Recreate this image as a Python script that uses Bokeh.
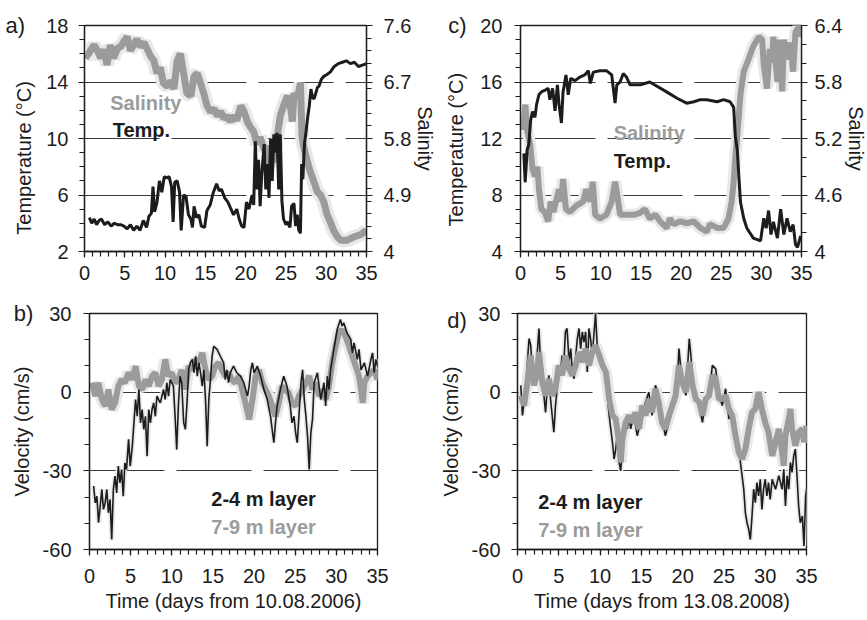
from bokeh.plotting import figure
from bokeh.models import Range1d, LinearAxis, FixedTicker, Label, NumeralTickFormatter
from bokeh.layouts import row, column
from bokeh.embed import file_html
from bokeh.resources import INLINE

# ---------------- data ----------------
# panel a (2006): temperature (degC) and salinity
a_temp_day = [0.6, 0.9, 1.2, 1.5, 1.8, 2.1, 2.5, 2.9, 3.3, 3.7,
              4.1, 4.5, 4.9, 5.3, 5.7, 6.1, 6.5, 6.9, 7.3, 7.7,
              8.0, 8.3, 8.5, 8.7, 9.0, 9.3, 9.6, 9.9, 10.2, 10.5,
              10.8, 11.0, 11.2, 11.5, 11.8, 12.0, 12.3, 12.6, 12.9, 13.2,
              13.4, 13.6, 13.9, 14.2, 14.5, 14.9, 15.2, 15.6, 16.0, 16.4,
              16.7, 17.0, 17.4, 17.8, 18.1, 18.5, 18.9, 19.2, 19.5, 19.8,
              20.1, 20.4, 20.8, 21.0, 21.2, 21.4, 21.6, 21.8, 22.0, 22.3,
              22.5, 22.7, 22.9, 23.1, 23.3, 23.5, 23.7, 23.9, 24.1, 24.3,
              24.5, 24.7, 25.0, 25.2, 25.5, 25.7, 26.0, 26.2, 26.4, 26.6,
              26.8, 26.95, 27.1, 27.3, 27.5, 27.7, 27.9, 28.1, 28.3, 28.5,
              28.7, 28.9, 29.1, 29.4, 29.7, 30.0, 30.5, 31.0, 31.5, 32.0,
              32.5, 33.0, 33.5, 34.0, 34.5, 35.0]
a_temp = [4.4, 4.0, 4.3, 3.9, 4.2, 4.3, 3.9, 4.1, 3.8, 4.0,
          3.9, 3.9, 3.8, 3.6, 3.9, 3.5, 3.8, 3.5, 4.2, 3.7,
          4.5, 4.7, 6.6, 4.8, 5.5, 7.0, 6.2, 7.3, 7.2, 7.3,
          6.6, 4.1, 6.9, 7.0, 6.2, 3.5, 6.0, 5.9, 4.6, 4.3,
          3.7, 5.2, 4.4, 4.6, 3.8, 3.7, 4.9, 5.3, 6.2, 6.8,
          6.3, 6.4, 5.8, 5.5, 5.1, 4.6, 5.0, 4.3, 3.8, 3.7,
          5.5, 5.0, 6.0, 5.3, 9.8, 6.4, 8.5, 5.2, 7.5, 9.6,
          6.4, 8.2, 5.8, 10.0, 7.0, 10.3, 9.0, 10.4, 6.4, 10.3,
          5.6, 4.3, 3.9, 4.1, 3.7, 5.2, 5.4, 3.8, 4.6, 3.5,
          3.3, 8.2, 7.1, 9.6, 10.5, 11.5, 12.3, 13.5, 12.9, 12.8,
          13.2, 13.6, 13.7, 14.2, 14.4, 14.5, 14.7, 15.1, 15.3, 15.4,
          15.5, 15.3, 15.4, 15.1, 15.2, 15.3]
a_sal_day = [0.1, 0.5, 1.2, 1.6, 2.0, 2.4, 2.8, 3.2, 3.6, 4.1,
             4.5, 4.9, 5.3, 5.7, 6.1, 6.5, 6.95, 7.4, 7.8, 8.2,
             8.6, 9.0, 9.4, 9.8, 10.3, 10.7, 11.1, 11.5, 11.9, 12.3,
             12.7, 13.2, 13.6, 14.0, 14.4, 14.8, 15.2, 15.6, 16.1, 16.5,
             16.9, 17.3, 17.7, 18.1, 18.5, 18.9, 19.4, 19.8, 20.2, 20.6,
             21.0, 21.4, 21.8, 22.3, 22.7, 23.1, 23.5, 23.9, 24.3, 24.7,
             25.2, 25.6, 25.8, 26.0, 26.4, 26.8, 27.0, 27.2, 27.6, 28.05,
             28.5, 28.9, 29.3, 29.7, 30.1, 30.5, 30.9, 31.4, 31.8, 32.6,
             33.4, 34.3, 35.0]
a_sal = [7.08, 7.15, 7.29, 7.20, 7.08, 7.22, 6.97, 7.29, 7.08, 7.24,
         7.26, 7.35, 7.42, 7.20, 7.29, 7.38, 7.26, 7.33, 7.22, 7.11,
         7.04, 6.84, 6.93, 6.68, 6.63, 6.72, 6.59, 7.04, 7.15, 6.84,
         6.52, 6.48, 6.79, 6.84, 6.68, 6.52, 6.32, 6.23, 6.27, 6.16,
         6.23, 6.12, 6.16, 6.07, 6.16, 6.09, 6.32, 6.23, 6.07, 5.98,
         5.91, 5.71, 5.82, 5.62, 5.67, 5.42, 5.46, 5.82, 6.16, 6.32,
         6.48, 6.27, 6.07, 6.52, 6.43, 6.68, 5.82, 5.67, 5.46, 5.26,
         5.10, 4.95, 4.90, 4.79, 4.59, 4.47, 4.34, 4.23, 4.18, 4.18,
         4.23, 4.27, 4.34]

# panel c (2008): temperature and salinity
c_temp_day = [0.42, 0.58, 0.83, 1.04, 1.25, 1.5, 1.8, 2.0, 2.3, 2.6,
              3.0, 3.45, 3.66, 4.0, 4.3, 4.6, 4.8, 5.1, 5.3, 5.66,
              5.95, 6.24, 6.8, 7.4, 8.0, 8.45, 8.7, 9.07, 9.9, 10.7,
              11.36, 11.78, 12.0, 12.4, 12.8, 13.2, 13.65, 14.9, 16.1, 17.0,
              18.2, 19.5, 20.7, 21.6, 22.4, 23.2, 24.5, 25.3, 26.1, 26.55,
              26.76, 27.0, 27.2, 27.4, 27.8, 28.2, 29.0, 29.9, 30.3, 30.6,
              30.9, 31.2, 31.5, 32.0, 32.4, 32.8, 33.2, 33.6, 33.96, 34.25,
              34.5, 34.9]
c_temp = [10.95, 8.9, 11.2, 11.6, 13.25, 13.9, 13.5, 14.4, 15.1, 15.3,
          15.4, 15.55, 14.75, 15.55, 13.95, 15.8, 14.4, 13.1, 15.3, 16.5,
          15.1, 16.25, 16.1, 16.35, 16.5, 16.8, 15.9, 16.7, 16.8, 16.8,
          16.5, 14.5, 15.8, 16.0, 16.6, 16.35, 15.8, 15.8, 16.0, 15.7,
          15.3, 14.85, 14.5, 14.6, 14.75, 14.75, 14.6, 14.75, 14.6, 14.2,
          12.1, 11.2, 9.3, 7.5, 6.35, 5.65, 4.95, 4.75, 6.35, 5.65,
          6.9, 5.2, 6.1, 4.95, 7.0, 5.2, 6.35, 5.4, 5.9, 4.5,
          4.3, 5.1]
c_sal_day = [0.3, 0.6, 0.83, 1.2, 1.5, 1.8, 2.1, 2.3, 2.6, 3.0,
             3.45, 3.75, 4.1, 4.5, 4.8, 5.1, 5.3, 5.66, 6.16, 7.0,
             7.8, 8.2, 8.65, 9.0, 9.3, 9.9, 10.7, 11.36, 11.78, 12.07,
             12.4, 13.2, 14.1, 14.9, 15.5, 16.1, 16.8, 17.4, 18.2, 18.6,
             19.1, 19.9, 20.7, 21.6, 22.4, 23.2, 23.6, 24.5, 25.3, 25.9,
             26.3, 26.55, 26.76, 27.0, 27.4, 27.8, 28.4, 29.0, 29.7, 30.1,
             30.3, 30.7, 31.05, 31.3, 31.5, 32.0, 32.2, 32.6, 32.8, 33.2,
             33.6, 33.96, 34.25, 34.7, 34.9]
c_sal = [5.29, 5.56, 5.29, 5.14, 4.87, 4.80, 4.90, 4.66, 4.45, 4.42,
         4.32, 4.53, 4.42, 4.56, 4.66, 4.53, 4.77, 4.45, 4.42, 4.49,
         4.53, 4.66, 4.53, 4.74, 4.39, 4.35, 4.39, 4.53, 4.74, 4.59,
         4.39, 4.39, 4.39, 4.41, 4.45, 4.35, 4.39, 4.32, 4.25, 4.35,
         4.29, 4.32, 4.30, 4.32, 4.25, 4.21, 4.29, 4.25, 4.25, 4.35,
         4.53, 4.74, 5.01, 5.22, 5.67, 5.91, 6.04, 6.18, 6.28, 6.25,
         5.98, 5.73, 6.15, 6.01, 6.28, 5.80, 6.25, 5.70, 6.25, 6.04,
         6.22, 5.91, 6.33, 6.39, 6.28]

# panel b (2006): velocity (cm/s)
b_top_day = [0.5, 0.7, 0.9, 1.1, 1.3, 1.5, 1.7, 1.9, 2.1, 2.3,
             2.5, 2.7, 2.9, 3.1, 3.3, 3.5, 3.7, 3.9, 4.1, 4.3,
             4.5, 4.75, 4.95, 5.2, 5.4, 5.6, 5.8, 6.0, 6.2, 6.4,
             6.6, 6.8, 7.0, 7.2, 7.4, 7.6, 7.8, 8.0, 8.2, 8.6,
             9.0, 9.2, 9.4, 9.6, 9.8, 10.2, 10.4, 10.6, 10.8, 11.0,
             11.2, 11.45, 11.65, 11.85, 12.05, 12.25, 12.5, 12.7, 12.9, 13.1,
             13.3, 13.5, 13.7, 13.9, 14.1, 14.3, 14.5, 14.7, 14.9, 15.1,
             15.5, 15.9, 16.3, 16.5, 16.7, 16.9, 17.1, 17.5, 17.9, 18.35,
             18.75, 19.2, 19.4, 19.6, 19.8, 20.0, 20.4, 20.8, 21.2, 21.6,
             22.0, 22.2, 22.4, 22.6, 22.8, 23.2, 23.6, 24.0, 24.4, 24.6,
             24.85, 25.05, 25.25, 25.7, 25.9, 26.1, 26.3, 26.5, 26.7, 26.9,
             27.1, 27.3, 27.7, 28.1, 28.5, 28.7, 28.9, 29.1, 29.3, 29.7,
             30.1, 30.5, 30.7, 30.9, 31.3, 31.75, 31.95, 32.15, 32.55, 32.75,
             33.0, 33.4, 33.8, 34.2, 34.4, 34.6, 34.8, 35.0]
b_top = [-35.8, -42.2, -39.7, -49.8, -43.5, -37.1, -44.7, -42.2, -37.1, -46.0,
         -40.9, -56.2, -37.1, -32.0, -38.4, -28.2, -34.6, -29.5, -39.7, -27.0,
         -29.5, -18.0, -28.2, -20.6, -11.7, -2.8, -9.2, 1.0, -11.7, -6.6,
         -14.2, -9.2, -24.4, -6.6, -11.7, -6.6, -4.1, -9.2, -1.5, -4.1,
         1.0, -2.8, 3.6, -1.5, 4.8, 2.3, -9.2, -21.9, -5.3, 6.1,
         3.6, -11.7, -14.2, -4.1, 8.5, 11.2, 12.5, 7.4, 13.7, 6.1,
         11.2, 7.4, 2.3, 8.5, -2.8, -20.6, -2.8, 4.8, 13.7, 17.5,
         16.3, 13.7, 11.2, 4.8, 8.5, 3.6, 7.4, 9.9, 7.4, 6.1,
         3.6, -1.5, 2.3, 8.5, 11.2, 7.4, 9.9, 6.1, 1.0, -2.8,
         -9.2, -14.2, -19.3, -11.7, -5.3, 1.0, 6.1, 2.3, -5.3, -11.7,
         -9.2, -15.5, -19.3, 3.6, 8.5, -2.8, -9.2, -16.8, -29.5, -15.5,
         -10.4, 3.6, 7.4, -2.8, 3.6, -5.3, 6.1, 1.0, 8.5, 16.3,
         23.9, 27.7, 25.2, 26.4, 22.6, 20.1, 15.0, 18.8, 12.5, 16.3,
         8.5, 11.2, 6.1, 12.5, 15.0, 7.4, 12.5, 9.9]
b_deep_day = [0.3, 0.7, 1.1, 1.5, 1.9, 2.3, 2.7, 3.1, 3.5, 3.9,
              4.3, 4.75, 5.2, 5.6, 6.0, 6.4, 6.8, 7.2, 7.6, 8.0,
              8.4, 8.8, 9.2, 9.6, 10.0, 10.4, 10.8, 11.2, 11.65, 12.05,
              12.5, 12.9, 13.3, 13.7, 14.1, 14.5, 14.9, 15.3, 15.7, 16.1,
              16.5, 16.9, 17.3, 17.7, 18.15, 18.55, 18.95, 19.4, 19.8, 20.2,
              20.6, 21.0, 21.4, 21.8, 22.2, 22.6, 23.0, 23.4, 23.8, 24.2,
              24.6, 25.05, 25.45, 25.9, 26.3, 26.7, 27.1, 27.5, 27.9, 28.3,
              28.7, 29.1, 29.5, 29.9, 30.3, 30.7, 31.1, 31.55, 31.95, 32.35,
              32.75, 33.0, 33.2, 33.4, 33.8, 34.2, 34.6, 35.0]
b_deep = [3.6, -1.5, 3.6, -2.8, -5.3, 1.0, -6.6, -4.1, 2.3, 4.8,
          3.6, 7.4, 4.8, 9.9, 2.3, 1.0, 4.8, 2.3, 6.1, 7.4,
          2.3, 4.8, 12.5, 6.1, 7.4, 3.6, 4.8, 8.5, 1.0, 9.9,
          8.5, 12.5, 11.2, 15.0, 8.5, 4.8, 6.1, 9.9, 11.2, 8.5,
          6.1, 7.4, 4.8, 3.6, 6.1, 1.0, -4.1, -10.4, -2.8, 6.1,
          8.5, 3.6, 1.0, -1.5, -5.3, -9.2, -4.1, 2.3, 1.0, -0.3,
          -4.1, -5.3, -1.5, 1.0, 3.6, 6.1, 1.0, 3.6, -1.5, 1.0,
          -2.8, 2.3, 11.2, 17.5, 22.6, 23.9, 21.4, 17.5, 13.7, 9.9,
          6.1, 1.0, -4.1, 3.6, 6.1, 7.4, 8.5, 4.8]

# panel d (2008): velocity (cm/s)
d_top_day = [0.4, 0.6, 0.8, 1.0, 1.2, 1.4, 1.6, 1.8, 2.0, 2.2,
             2.4, 2.6, 2.8, 3.0, 3.2, 3.4, 3.6, 3.8, 4.0, 4.2,
             4.4, 4.6, 4.8, 5.0, 5.2, 5.4, 5.6, 5.8, 6.0, 6.25,
             6.45, 6.65, 6.85, 7.05, 7.25, 7.45, 7.65, 7.85, 8.05, 8.25,
             8.45, 8.65, 8.85, 9.05, 9.25, 9.45, 9.65, 9.9, 10.1, 10.3,
             10.5, 10.7, 10.9, 11.1, 11.3, 11.5, 11.7, 11.9, 12.1, 12.3,
             12.5, 12.7, 12.9, 13.1, 13.3, 13.5, 13.7, 13.9, 14.1, 14.3,
             14.5, 14.7, 14.9, 15.1, 15.5, 15.9, 16.3, 16.7, 17.1, 17.5,
             17.9, 18.35, 18.75, 19.15, 19.35, 19.55, 19.75, 19.95, 20.4, 20.8,
             21.0, 21.2, 21.6, 22.0, 22.4, 22.8, 23.2, 23.6, 24.0, 24.2,
             24.4, 24.8, 25.2, 25.6, 26.0, 26.4, 26.8, 27.2, 27.4, 27.6,
             27.8, 28.0, 28.2, 28.4, 28.6, 28.8, 29.0, 29.2, 29.4, 29.6,
             29.8, 30.0, 30.2, 30.4, 30.6, 30.85, 31.25, 31.65, 32.05, 32.25,
             32.45, 32.65, 32.85, 33.05, 33.25, 33.45, 33.65, 33.85, 34.05, 34.25,
             34.5, 34.7, 34.8, 34.9, 35.0]
d_top = [2.6, -8.9, -3.8, 1.3, 11.5, 20.4, 17.9, 7.7, 5.1, 2.6,
         15.3, 24.3, 10.2, 3.8, -1.3, -7.7, 1.3, 6.4, -2.6, -8.9,
         -15.3, -5.1, 1.3, 10.2, 7.7, 14.0, 10.2, 23.0, 24.3, 11.5,
         16.6, 7.7, 5.1, 14.0, 20.4, 24.3, 16.6, 23.0, 19.1, 23.0,
         7.7, 24.3, 20.4, 14.0, 21.7, 30.0, 17.9, 11.5, 14.0, 10.2,
         7.7, 3.8, -2.6, -8.9, -14.0, -19.1, -25.5, -21.7, -15.3, -26.8,
         -30.0, -21.7, -14.0, -10.2, -14.0, -8.9, -14.0, -11.5, -8.9, -12.8,
         -16.6, -14.0, -6.4, -10.2, -3.8, 0.0, -8.9, 2.6, -1.3, -10.2,
         -16.6, -11.5, -6.4, -2.6, 2.6, 16.6, 10.2, 5.1, -1.3, 20.4,
         14.0, 5.1, -2.6, -5.1, -11.5, -2.6, -1.3, 10.2, 8.9, 3.8,
         -1.3, -5.1, 1.3, -10.2, -7.7, -14.0, -21.7, -31.9, -37.0, -46.0,
         -49.8, -52.3, -56.2, -47.2, -37.0, -42.1, -34.5, -39.6, -33.2, -44.7,
         -37.0, -33.2, -39.6, -34.5, -40.9, -33.2, -37.0, -31.9, -37.0, -29.4,
         -43.4, -31.9, -37.0, -26.8, -30.6, -24.3, -21.7, -31.9, -43.4, -49.8,
         -47.2, -58.7, -48.5, -39.6, -37.0]
d_deep_day = [0.4, 0.8, 1.2, 1.6, 2.0, 2.4, 2.6, 3.0, 3.4, 3.8,
              4.2, 4.6, 5.0, 5.4, 5.8, 6.25, 6.65, 7.05, 7.45, 7.85,
              8.25, 8.65, 9.05, 9.45, 9.9, 10.3, 10.7, 11.1, 11.5, 11.9,
              12.3, 12.5, 12.7, 13.1, 13.5, 13.9, 14.3, 14.7, 15.1, 15.5,
              15.9, 16.3, 16.7, 17.1, 17.5, 17.9, 18.35, 18.75, 19.15, 19.55,
              19.95, 20.4, 20.8, 21.2, 21.6, 22.0, 22.4, 22.8, 23.2, 23.6,
              24.0, 24.4, 24.8, 25.2, 25.6, 26.0, 26.4, 26.8, 27.2, 27.6,
              28.0, 28.4, 28.8, 29.2, 29.6, 30.0, 30.4, 30.85, 31.25, 31.65,
              32.05, 32.25, 32.45, 32.85, 33.05, 33.25, 33.65, 34.05, 34.5, 34.7,
              35.0]
d_deep = [-1.3, -5.1, 3.8, 14.0, 2.6, 7.7, 15.3, 3.8, -1.3, 5.1,
          -1.3, 1.3, 10.2, 6.4, 14.0, 8.9, 6.4, 10.2, 15.3, 11.5,
          16.6, 10.2, 15.3, 17.9, 14.0, 10.2, 7.7, -2.6, -8.9, -10.2,
          -19.1, -26.8, -17.9, -11.5, -8.9, -11.5, -7.7, -14.0, -5.1, -8.9,
          -2.6, -7.7, 1.3, -3.8, -11.5, -14.0, -8.9, -5.1, -1.3, 10.2,
          3.8, 0.0, 11.5, 2.6, -2.6, -3.8, -8.9, -2.6, -1.3, 6.4,
          5.1, -2.6, -2.6, -1.3, -6.4, -8.9, -16.6, -23.0, -25.5, -21.7,
          -14.0, -7.7, -6.4, 0.0, -6.4, -11.5, -15.3, -24.3, -19.1, -14.0,
          -23.0, -28.1, -16.6, -10.2, -6.4, -14.0, -20.4, -15.3, -14.0, -19.1,
          -12.8]

# ticks
day_ticks = [0, 5, 10, 15, 20, 25, 30, 35]
a_temp_ticks = [2, 6, 10, 14, 18]
a_sal_ticks = [4, 4.9, 5.8, 6.7, 7.6]
c_temp_ticks = [4, 8, 12, 16, 20]
c_sal_ticks = [4, 4.6, 5.2, 5.8, 6.4]
vel_ticks = [-60, -30, 0, 30]

# ---------------- styling ----------------
FONT = "Liberation Sans"
DARK = "#1c1c1c"
GREY = "#9b9b9b"
PALE = "#e8e8e8"
FS = "20px"
NB = "\u00a0"


def style_axis(ax, label_standoff, title_standoff):
    ax.axis_line_color = DARK
    ax.axis_line_width = 1.3
    ax.major_tick_line_color = DARK
    ax.major_tick_line_width = 1.2
    ax.minor_tick_line_color = DARK
    ax.minor_tick_line_width = 1.2
    ax.major_tick_out = 6
    ax.major_tick_in = 0
    ax.minor_tick_out = 5
    ax.minor_tick_in = 0
    ax.major_label_text_font = FONT
    ax.major_label_text_font_size = FS
    ax.major_label_text_color = DARK
    ax.major_label_standoff = label_standoff
    ax.axis_label_text_font = FONT
    ax.axis_label_text_font_size = FS
    ax.axis_label_text_font_style = "normal"
    ax.axis_label_text_color = DARK
    ax.axis_label_standoff = title_standoff


def make_fig(fw, fh, ymin, ymax, yticks, yminor, grid_ticks, borders,
             left_label, left_std, bottom_std, xlabel=None):
    bl, br, bt, bb = borders
    p = figure(frame_width=fw, frame_height=fh,
               x_range=Range1d(0, 35), y_range=Range1d(ymin, ymax),
               output_backend="svg", toolbar_location=None,
               min_border_left=bl, min_border_right=br,
               min_border_top=bt, min_border_bottom=bb,
               background_fill_color="white", border_fill_color="white")
    p.outline_line_color = DARK
    p.outline_line_width = 1.3
    p.xgrid.visible = False
    p.ygrid.ticker = FixedTicker(ticks=grid_ticks)
    p.ygrid.grid_line_color = "#3a3a3a"
    p.ygrid.grid_line_width = 1
    p.ygrid.grid_line_dash = "75 12"
    p.xaxis.ticker = FixedTicker(ticks=day_ticks, minor_ticks=list(range(0, 36)))
    p.xaxis.formatter = NumeralTickFormatter(format="0")
    style_axis(p.xaxis[0], bottom_std[0], bottom_std[1])
    if xlabel:
        p.xaxis.axis_label = xlabel
    p.yaxis.ticker = FixedTicker(ticks=yticks, minor_ticks=yminor)
    p.yaxis.formatter = NumeralTickFormatter(format="0")
    p.yaxis.axis_label = left_label
    style_axis(p.yaxis[0], left_std[0], left_std[1])
    return p


def add_right(p, lo, hi, ticks, minor, std, tstd):
    p.extra_y_ranges = {"sal": Range1d(lo, hi)}
    ax = LinearAxis(y_range_name="sal", axis_label="Salinity",
                    ticker=FixedTicker(ticks=ticks, minor_ticks=minor),
                    formatter=NumeralTickFormatter(format="0.[0]"))
    style_axis(ax, std, tstd)
    p.add_layout(ax, "right")


def add_text(p, x, y, text, color=DARK, bold=True, size=FS, place=None):
    lab = Label(x=x, y=y, text=text, text_font=FONT,
                text_font_size=size, text_color=color,
                text_font_style="bold" if bold else "normal",
                text_baseline="middle", text_align="left")
    if place:
        p.add_layout(lab, place)
    else:
        p.add_layout(lab)


sal_minor_a = [round(4 + 0.2 * i, 2) for i in range(19)]
sal_minor_c = [round(4 + 0.2 * i, 2) for i in range(13)]

# ---- panel a ----
pa = make_fig(282, 226, 2, 18, a_temp_ticks, list(range(2, 19)), [6, 10, 14],
              (84, 70, 17, 38), "Temperature (°C)" + NB * 7, (10, 8), (8, 1))
add_right(pa, 4, 7.6, a_sal_ticks, sal_minor_a, 11, 0)
pa.line(a_sal_day, a_sal, y_range_name="sal", line_color=PALE, line_width=14)
pa.line(a_sal_day, a_sal, y_range_name="sal", line_color=GREY, line_width=7)
pa.line(a_temp_day, a_temp, line_color=DARK, line_width=3)
add_text(pa, 3.2, 12.5, "Salinity", GREY)
add_text(pa, 3.5, 10.6, "Temp.", DARK)
add_text(pa, -9.8, 18, "a)", DARK, bold=False, size="22px", place="above")

# ---- panel c ----
pc = make_fig(281, 226, 4, 20, c_temp_ticks, list(range(4, 21)), [8, 12, 16],
              (81, 69, 17, 38), "Temperature (°C)" + NB * 4, (12, 10), (8, 1))
add_right(pc, 4, 6.4, c_sal_ticks, sal_minor_c, 7, 0)
pc.line(c_sal_day, c_sal, y_range_name="sal", line_color=PALE, line_width=12)
pc.line(c_sal_day, c_sal, y_range_name="sal", line_color=GREY, line_width=6)
pc.line(c_temp_day, c_temp, line_color=DARK, line_width=3)
add_text(pc, 11.6, 12.4, "Salinity", GREY)
add_text(pc, 11.6, 10.4, "Temp.", DARK)
add_text(pc, -9.0, 20, "c)", DARK, bold=False, size="22px", place="above")

# ---- panel b ----
vel_minor = [-60, -50, -40, -30, -20, -10, 0, 10, 20, 30]
pb = make_fig(288, 236, -60, 30, vel_ticks, vel_minor, [-30, 0],
              (89, 59, 24, 69), "Velocity (cm/s)", (12, 7), (13, 4),
              xlabel="Time (days from 10.08.2006)")
pb.line(b_deep_day, b_deep, line_color=PALE, line_width=12)
pb.line(b_top_day, b_top, line_color=PALE, line_width=5)
pb.line(b_deep_day, b_deep, line_color=GREY, line_width=6)
pb.line(b_top_day, b_top, line_color=DARK, line_width=1.6)
add_text(pb, 14.8, -40.9, "2-4 m layer", DARK)
add_text(pb, 14.8, -51.6, "7-9 m layer", GREY)
add_text(pb, -9.2, 30, "b)", DARK, bold=False, size="22px", place="right")

# ---- panel d ----
pd_ = make_fig(289, 236, -60, 30, vel_ticks, vel_minor, [-30, 0],
               (79, 63, 24, 69), "Velocity (cm/s)", (11, 7), (13, 4),
               xlabel="Time (days from 13.08.2008)")
pd_.line(d_deep_day, d_deep, line_color=PALE, line_width=12)
pd_.line(d_top_day, d_top, line_color=PALE, line_width=5)
pd_.line(d_top_day, d_top, line_color=DARK, line_width=1.6)
pd_.line(d_deep_day, d_deep, line_color=GREY, line_width=6)
add_text(pd_, 2.5, -42, "2-4 m layer", DARK)
add_text(pd_, 2.5, -52.7, "7-9 m layer", GREY)
add_text(pd_, -8.5, 27.5, "d)", DARK, bold=False, size="22px", place="right")

layout = column(row(pa, pc), row(pb, pd_))
open("out.html", "w").write(file_html(layout, INLINE))
